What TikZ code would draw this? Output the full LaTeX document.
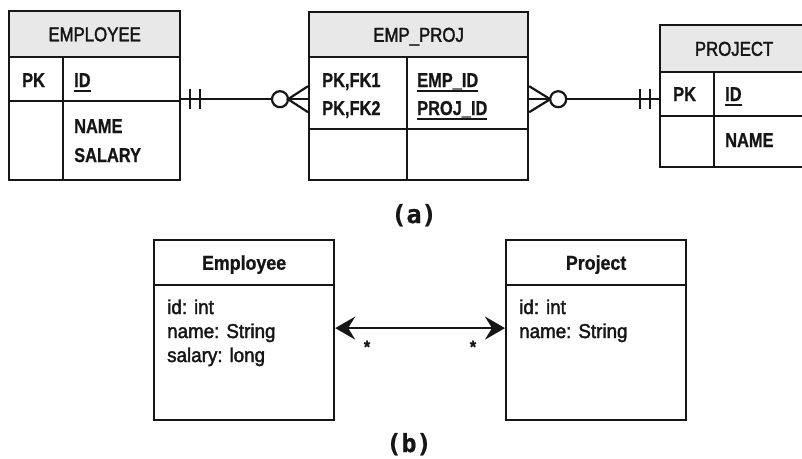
\documentclass[tikz,border=0pt]{standalone}
\usepackage{fontspec}
\setmainfont{Liberation Sans}
\newfontfamily\ernarrow{Liberation Sans}[FakeStretch=0.82, FakeBold=0.8]
\newfontfamily\erhead{Liberation Sans}[FakeStretch=0.84, FakeBold=2]
\newfontfamily\umlhead{Liberation Sans}[FakeStretch=0.89, FakeBold=0.8]
\newfontfamily\umlbody{Liberation Sans}[FakeStretch=0.94, FakeBold=2]
\newfontfamily\capmono{DejaVu Sans Mono}[FakeBold=0.8]
\usetikzlibrary{arrows.meta,calc}
\definecolor{ink}{HTML}{161616}
\definecolor{hdrgray}{HTML}{E8E8E8}
% key attribute: text with a rule drawn under it
\newcommand\keyline[1]{{\setbox0\hbox{#1}\rlap{\rule[-5pt]{\wd0}{2pt}}\box0}}
\tikzset{
  cellbox/.style={draw=ink, line width=2.2pt, anchor=north west, inner sep=0pt},
  hdrbox/.style={cellbox, fill=hdrgray, text height=14.3pt, text depth=0pt,
    text=ink, font=\erhead\fontsize{20}{24}\selectfont},
  umlhdr/.style={cellbox, text height=14.3pt, text depth=0pt,
    text=ink, font=\umlhead\bfseries\fontsize{20}{24}\selectfont},
  erkey/.style={anchor=base west, inner sep=0pt, text=ink,
    font=\ernarrow\bfseries\fontsize{20}{24}\selectfont},
  umlattr/.style={anchor=base west, inner sep=0pt, text=ink,
    font=\umlbody\fontsize{20}{24}\selectfont},
  mult/.style={anchor=base, inner sep=0pt, text=ink,
    font=\umlhead\bfseries\fontsize{18}{18}\selectfont},
  caption/.style={anchor=base, inner sep=0pt, text=ink,
    font=\capmono\bfseries\fontsize{25}{28}\selectfont},
  link/.style={draw=ink, line width=2.2pt},
}
\begin{document}
\begin{tikzpicture}[x=1pt, y=-1pt]
\useasboundingbox (0,0) rectangle (802,458);

% ---------- (a) relational tables ----------
% EMPLOYEE
\node[hdrbox, minimum width=171pt, minimum height=46pt] (emp-h) at (8,10) {EMPLOYEE};
\node[cellbox, minimum width=54pt, minimum height=44pt] (emp-k1) at (8,56) {};
\node[cellbox, minimum width=117pt, minimum height=44pt] (emp-f1) at (62,56) {};
\node[cellbox, minimum width=54pt, minimum height=79pt] (emp-k2) at (8,100) {};
\node[cellbox, minimum width=117pt, minimum height=79pt] (emp-f2) at (62,100) {};
\node[erkey] (emp-pk) at (22,87) {PK};
\node[erkey] (emp-id) at (74,87) {\keyline{ID}};
\node[erkey] (emp-name) at (74,133) {NAME};
\node[erkey] (emp-sal) at (74,162) {SALARY};

% EMP_PROJ
\node[hdrbox, minimum width=219pt, minimum height=45pt] (ep-h) at (308,11) {EMP\_PROJ};
\node[cellbox, minimum width=98pt, minimum height=72pt] (ep-k1) at (308,56) {};
\node[cellbox, minimum width=121pt, minimum height=72pt] (ep-f1) at (406,56) {};
\node[cellbox, minimum width=98pt, minimum height=51pt] (ep-k2) at (308,128) {};
\node[cellbox, minimum width=121pt, minimum height=51pt] (ep-f2) at (406,128) {};
\node[erkey] (ep-fk1) at (322,87) {PK,FK1};
\node[erkey] (ep-fk2) at (322,115) {PK,FK2};
\node[erkey] (ep-empid) at (417,87) {\keyline{EMP\_ID}};
\node[erkey] (ep-projid) at (417,115) {\keyline{PROJ\_ID}};

% PROJECT (runs past the right edge of the page)
\begin{scope}
\clip (0,0) rectangle (802,458);
\node[hdrbox, minimum width=148pt, minimum height=47pt] (pr-h) at (659,24) {PROJECT};
\node[cellbox, minimum width=54pt, minimum height=44pt] (pr-k1) at (659,71) {};
\node[cellbox, minimum width=94pt, minimum height=44pt] (pr-f1) at (713,71) {};
\node[cellbox, minimum width=54pt, minimum height=51pt] (pr-k2) at (659,115) {};
\node[cellbox, minimum width=94pt, minimum height=51pt] (pr-f2) at (713,115) {};
\end{scope}
\node[erkey] (pr-pk) at (673,101) {PK};
\node[erkey] (pr-id) at (725,101) {\keyline{ID}};
\node[erkey] (pr-name) at (725,147) {NAME};

% relationship EMPLOYEE ||--o< EMP_PROJ
\path ([yshift=3pt]emp-f1.south east) coordinate (eR);
\path (eR -| ep-k1.west) coordinate (pL);
\draw[link] (eR) -- ($(pL)+(-36,0)$);
\draw[link] ($(eR)+(9,-10)$) -- ($(eR)+(9,10)$);
\draw[link] ($(eR)+(19,-10)$) -- ($(eR)+(19,10)$);
\draw[link, fill=white] ($(pL)+(-28,0)$) circle[radius=8pt];
\draw[link] ($(pL)+(0,-13)$) -- ($(pL)+(-20,0)$) -- ($(pL)+(0,13)$);
\draw[link] ($(pL)+(-20,0)$) -- (pL);

% relationship EMP_PROJ >o--|| PROJECT
\path (eR -| ep-f1.east) coordinate (pR);
\path (eR -| pr-k1.west) coordinate (qL);
\draw[link] ($(pR)+(0,-13)$) -- ($(pR)+(21,0)$) -- ($(pR)+(0,13)$);
\draw[link] (pR) -- ($(pR)+(21,0)$);
\draw[link, fill=white] ($(pR)+(29,0)$) circle[radius=8pt];
\draw[link] ($(pR)+(37,0)$) -- (qL);
\draw[link] ($(qL)+(-19,-10)$) -- ($(qL)+(-19,10)$);
\draw[link] ($(qL)+(-9,-10)$) -- ($(qL)+(-9,10)$);

\node[caption] (cap-a) at (414,223) {(a)};

% ---------- (b) class diagram ----------
\node[cellbox, minimum width=180pt, minimum height=180pt] (uemp) at (153,239) {};
\node[umlhdr, minimum width=180pt, minimum height=45pt] (uemp-h) at (153,239) {Employee};
\node[umlattr] (uemp-a1) at (167,314) {id: int};
\node[umlattr] (uemp-a2) at (167,338) {name: String};
\node[umlattr] (uemp-a3) at (167,362) {salary: long};

\node[cellbox, minimum width=180pt, minimum height=180pt] (uproj) at (505,239) {};
\node[umlhdr, minimum width=180pt, minimum height=45pt] (uproj-h) at (505,239) {Project};
\node[umlattr] (uproj-a1) at (519,314) {id: int};
\node[umlattr] (uproj-a2) at (519,338) {name: String};

\draw[link, {Stealth[length=20pt, width=23pt, inset=7pt]}-{Stealth[length=20pt, width=23pt, inset=7pt]}]
  ([yshift=2pt]uemp.east) -- ([yshift=2pt]uproj.west);
\node[mult] (m-left) at (367,353) {*};
\node[mult] (m-right) at (473,353) {*};

\node[caption] (cap-b) at (409,452) {(b)};
\end{tikzpicture}
\end{document}
